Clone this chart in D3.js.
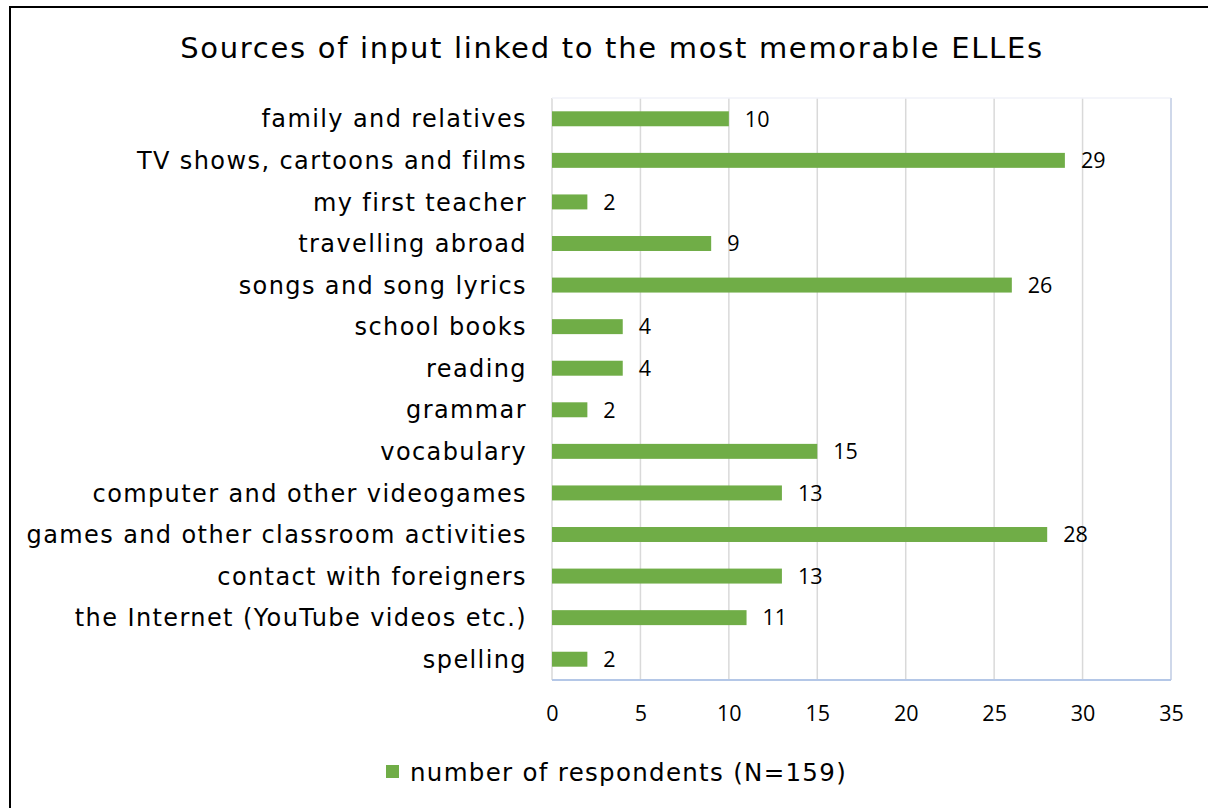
<!DOCTYPE html>
<html>
<head>
<meta charset="utf-8">
<script src="https://cdn.jsdelivr.net/npm/d3@7"></script>
<style>
  body { margin: 0; background: #fff; }
  svg { display: block; }
</style>
</head>
<body>
<div></div>
<script>
const width = 1208;
const height = 808;

const categories = [
  "family and relatives",
  "TV shows, cartoons and films",
  "my first teacher",
  "travelling abroad",
  "songs and song lyrics",
  "school books",
  "reading",
  "grammar",
  "vocabulary",
  "computer and other videogames",
  "games and other classroom activities",
  "contact with foreigners",
  "the Internet (YouTube videos etc.)",
  "spelling"
];
const values = [10, 29, 2, 9, 26, 4, 4, 2, 15, 13, 28, 13, 11, 2];
const ticks = [0, 5, 10, 15, 20, 25, 30, 35];
const seriesName = "number of respondents (N=159)";
const title = "Sources of input linked to the most memorable ELLEs";

const margin = { left: 552, right: 1171, top: 98, bottom: 680 };
const green = "#70ad47";
const wideFont = "DejaVu Sans, Verdana, sans-serif";
const numFont = "Open Sans, sans-serif";

const svg = d3
  .select("div")
  .append("svg")
  .attr("width", width)
  .attr("height", height);

// outer frame (runs off the right and bottom of the picture)
svg
  .append("rect")
  .attr("x", 10)
  .attr("y", 7)
  .attr("width", width + 20)
  .attr("height", height + 20)
  .attr("fill", "none")
  .attr("stroke", "#000")
  .attr("stroke-width", 2);

svg
  .append("text")
  .attr("x", 612)
  .attr("y", 58)
  .attr("text-anchor", "middle")
  .attr("font-family", wideFont)
  .attr("font-size", "29px")
  .attr("letter-spacing", "1.7px")
  .attr("fill", "#000")
  .text(title);

const x = d3.scaleLinear().domain([0, 35]).range([margin.left, margin.right]);
const y = d3
  .scaleBand()
  .domain(categories)
  .range([margin.top, margin.bottom])
  .paddingInner(0.64)
  .paddingOuter(0.32);

// gridlines
svg
  .append("g")
  .selectAll("line")
  .data(ticks)
  .enter()
  .append("line")
  .attr("x1", (d) => x(d))
  .attr("x2", (d) => x(d))
  .attr("y1", margin.top)
  .attr("y2", margin.bottom)
  .attr("stroke", "#d9d9d9")
  .attr("stroke-width", 1.5);

// plot area border
svg
  .append("line")
  .attr("x1", margin.left)
  .attr("x2", margin.right)
  .attr("y1", margin.top)
  .attr("y2", margin.top)
  .attr("stroke", "#f0f2f8")
  .attr("stroke-width", 1.5);
svg
  .append("line")
  .attr("x1", margin.right)
  .attr("x2", margin.right)
  .attr("y1", margin.top)
  .attr("y2", margin.bottom)
  .attr("stroke", "#c9d5ec")
  .attr("stroke-width", 1.5);
svg
  .append("line")
  .attr("x1", margin.left)
  .attr("x2", margin.right)
  .attr("y1", margin.bottom)
  .attr("y2", margin.bottom)
  .attr("stroke", "#b4c7e7")
  .attr("stroke-width", 2);

// bars
svg
  .append("g")
  .selectAll("rect")
  .data(values)
  .enter()
  .append("rect")
  .attr("x", x(0))
  .attr("y", (d, i) => y(categories[i]))
  .attr("width", (d) => x(d) - x(0))
  .attr("height", y.bandwidth())
  .attr("fill", green);

// value labels
svg
  .append("g")
  .selectAll("text")
  .data(values)
  .enter()
  .append("text")
  .attr("x", (d) => x(d) + 16)
  .attr("y", (d, i) => y(categories[i]) + y.bandwidth() / 2)
  .attr("dy", "0.36em")
  .attr("font-family", numFont)
  .attr("font-size", "21.5px")
  .attr("fill", "#000")
  .text((d) => d);

// category labels
const yAxis = svg
  .append("g")
  .attr("transform", "translate(" + (margin.left - 25) + ",0)")
  .call(d3.axisLeft(y).tickSize(0).tickPadding(0));
yAxis.select(".domain").remove();
yAxis
  .selectAll("text")
  .attr("font-family", wideFont)
  .attr("font-size", "24px")
  .attr("letter-spacing", "1.4px")
  .attr("fill", "#000")
  .attr("dy", "0.36em");

// x axis labels
const xAxis = svg
  .append("g")
  .attr("transform", "translate(0," + margin.bottom + ")")
  .call(d3.axisBottom(x).tickValues(ticks).tickSize(0).tickPadding(26));
xAxis.select(".domain").remove();
xAxis
  .selectAll("text")
  .attr("font-family", numFont)
  .attr("font-size", "21.5px")
  .attr("fill", "#000");

// legend
const legend = svg.append("g").attr("transform", "translate(386,765)");
legend
  .append("rect")
  .attr("width", 13)
  .attr("height", 13)
  .attr("fill", green);
legend
  .append("text")
  .attr("x", 24)
  .attr("y", 7)
  .attr("dy", "0.36em")
  .attr("font-family", wideFont)
  .attr("font-size", "24.5px")
  .attr("letter-spacing", "1.3px")
  .attr("fill", "#000")
  .text(seriesName);
</script>
</body>
</html>
